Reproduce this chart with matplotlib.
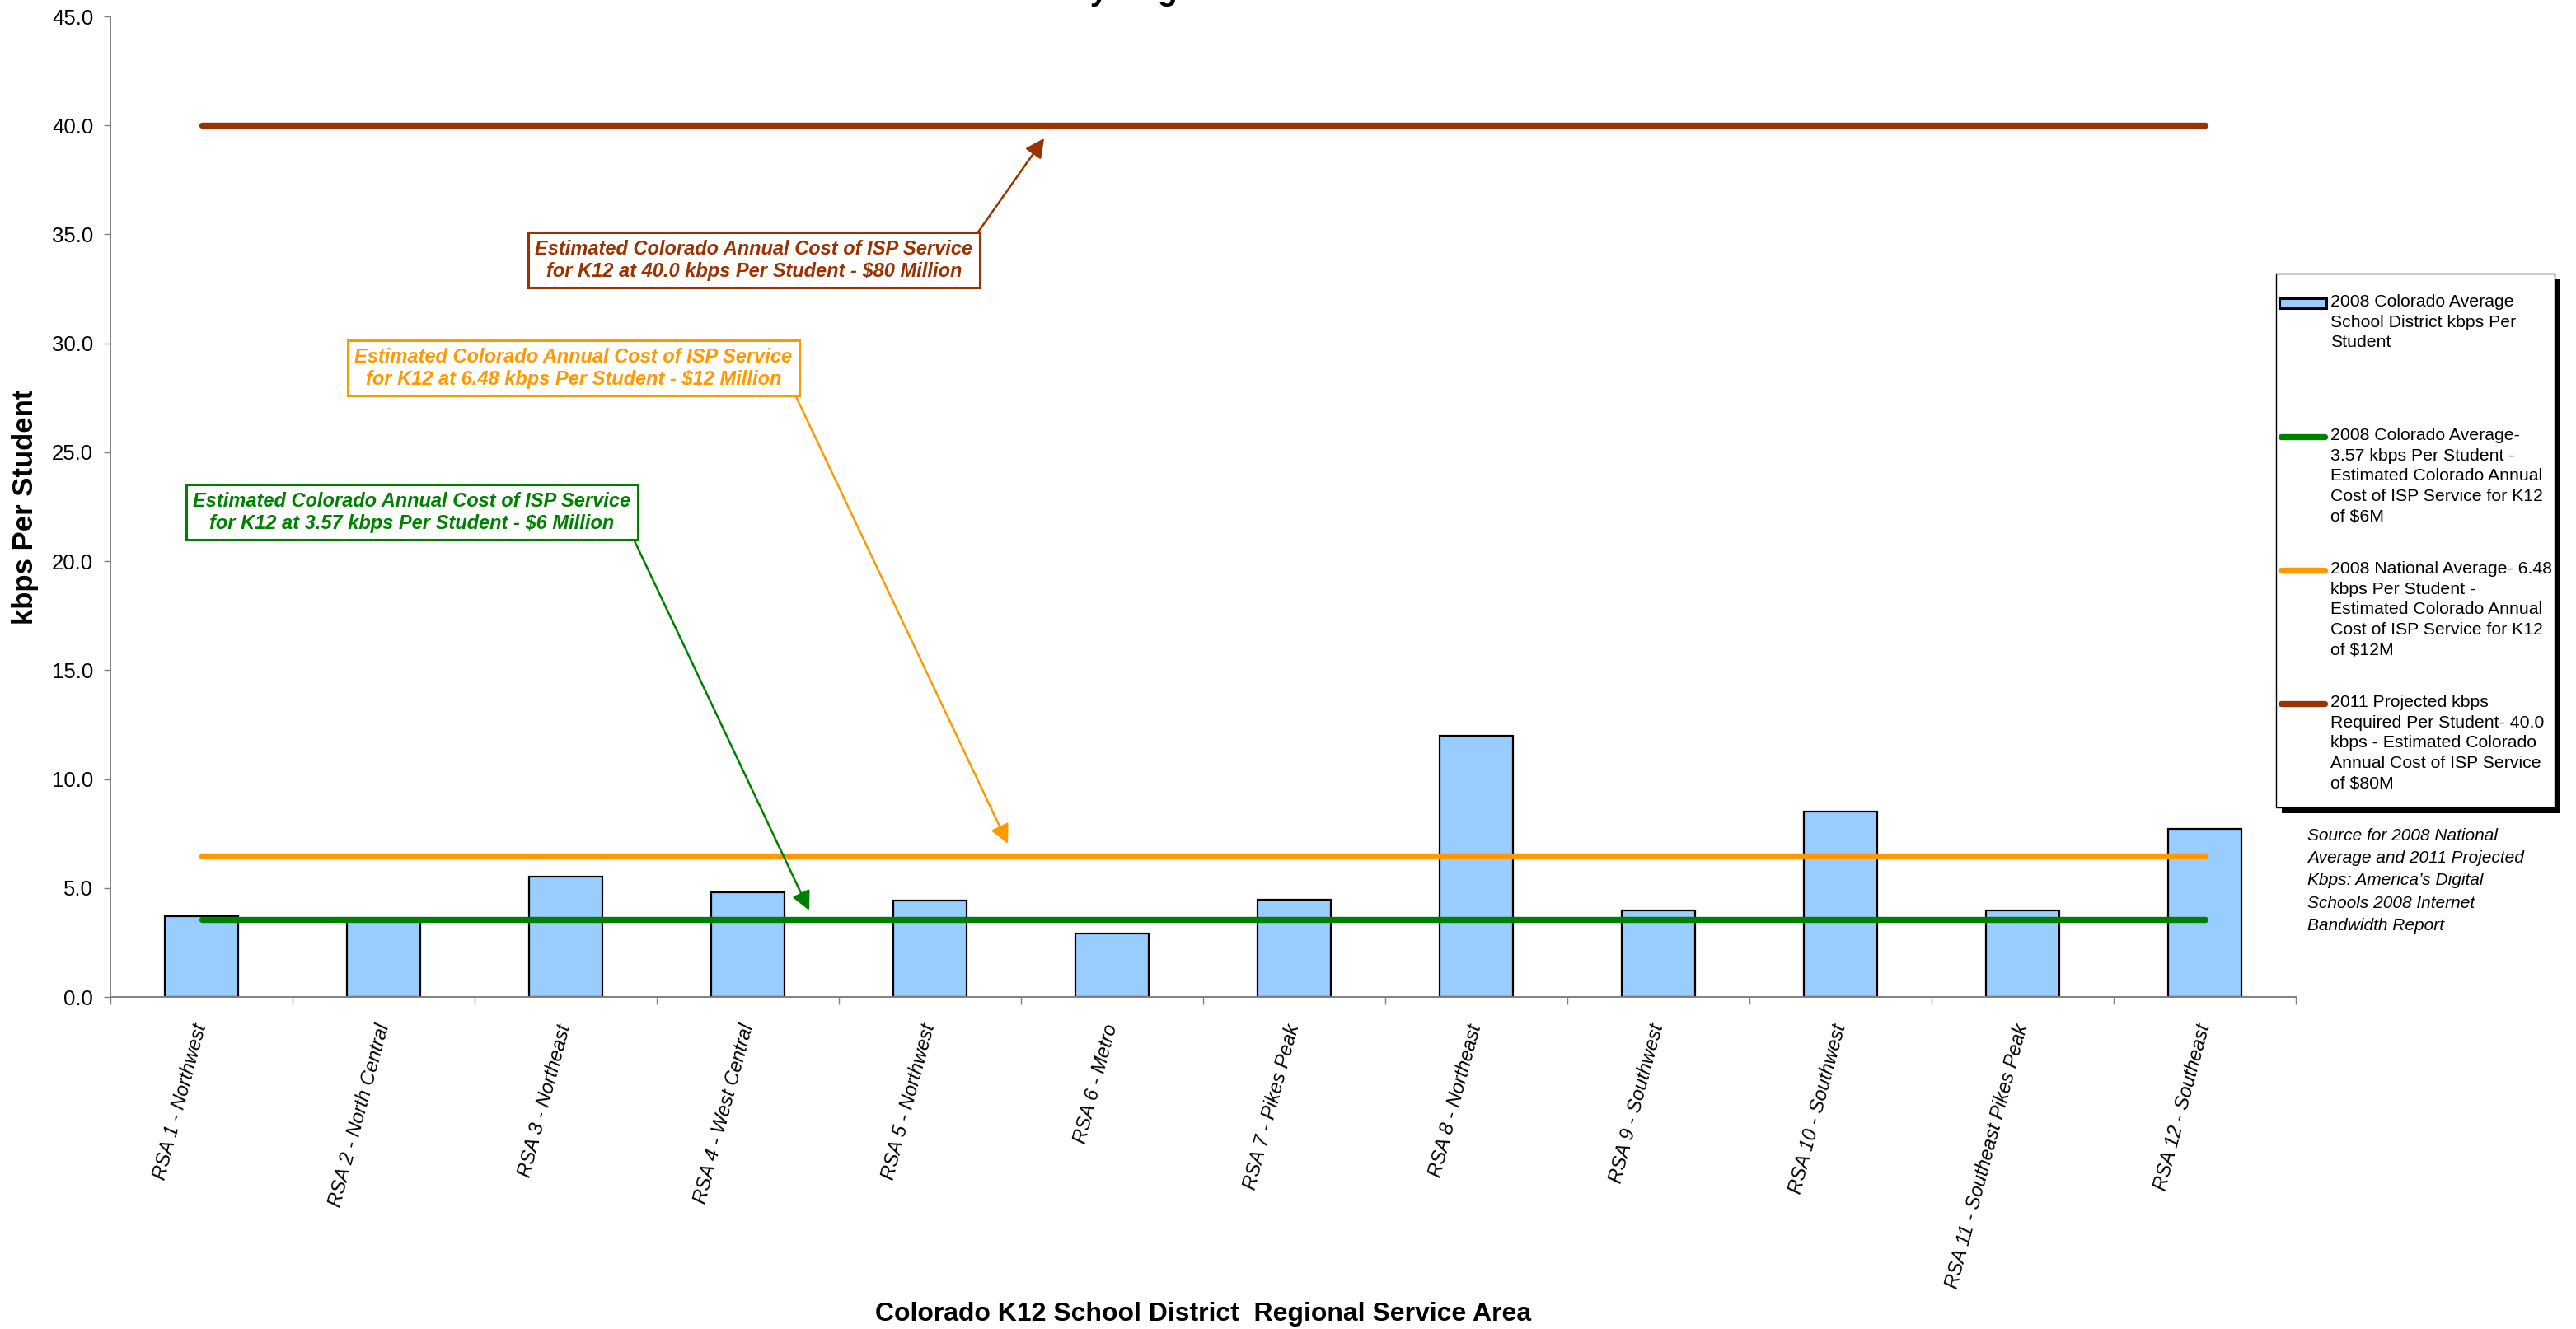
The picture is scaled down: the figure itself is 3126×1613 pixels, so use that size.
import numpy as np
import matplotlib
matplotlib.use('Agg')
import matplotlib.pyplot as plt
from matplotlib.patches import Rectangle

plt.rcParams['font.family'] = ['Liberation Sans', 'DejaVu Sans']

# ── data ────────────────────────────────────────────────────────────────────
REGIONS = ['RSA 1 - Northwest', 'RSA 2 - North Central', 'RSA 3 - Northeast',
           'RSA 4 - West Central', 'RSA 5 - Northwest', 'RSA 6 - Metro',
           'RSA 7 - Pikes Peak', 'RSA 8 - Northeast', 'RSA 9 - Southwest',
           'RSA 10 - Southwest', 'RSA 11 - Southeast Pikes Peak',
           'RSA 12 - Southeast']
KBPS_2008 = [3.69, 3.55, 5.51, 4.79, 4.43, 2.92, 4.45, 12.0, 3.97, 8.51, 3.97, 7.72]
CO_AVG    = [3.57, 3.57, 3.57, 3.57, 3.57, 3.57, 3.57, 3.57, 3.57, 3.57, 3.57, 3.57]
NAT_AVG   = [6.48, 6.48, 6.48, 6.48, 6.48, 6.48, 6.48, 6.48, 6.48, 6.48, 6.48, 6.48]
PROJ_2011 = [40.0, 40.0, 40.0, 40.0, 40.0, 40.0, 40.0, 40.0, 40.0, 40.0, 40.0, 40.0]
YTICKS = [0, 5, 10, 15, 20, 25, 30, 35, 40, 45]

LEG = ['2008 Colorado Average\nSchool District kbps Per\nStudent',
       '2008 Colorado Average-\n3.57 kbps Per Student -\nEstimated Colorado Annual\n'
       'Cost of ISP Service for K12\nof $6M',
       '2008 National Average- 6.48\nkbps Per Student -\nEstimated Colorado Annual\n'
       'Cost of ISP Service for K12\nof $12M',
       '2011 Projected kbps\nRequired Per Student- 40.0\nkbps - Estimated Colorado\n'
       'Annual Cost of ISP Service\nof $80M']
SOURCE = ('Source for 2008 National\nAverage and 2011 Projected\n'
          'Kbps: America\u2019s Digital\nSchools 2008 Internet\nBandwidth Report')

BLUE, GREEN, ORANGE, BROWN = '#99CCFF', '#008000', '#FF9900', '#993300'
GRAY = '#808080'

W, H = 3126, 1613
fig = plt.figure(figsize=(W / 100, H / 100), dpi=100)
ax = fig.add_axes([134 / W, 1 - 1210 / H, 2652 / W, 1190 / H])

x = np.arange(len(REGIONS))
ax.bar(x, KBPS_2008, 0.4, color=BLUE, edgecolor='black', lw=1.6, zorder=2)
for vals, c in [(CO_AVG, GREEN), (NAT_AVG, ORANGE), (PROJ_2011, BROWN)]:
    ax.plot(x, vals, color=c, lw=5.3, solid_capstyle='round', zorder=3)

ax.set_xlim(-0.5, len(REGIONS) - 0.5)
ax.set_ylim(0, 45)
ax.set_yticks(YTICKS)
ax.set_yticklabels([f'{v:.1f}' for v in YTICKS], fontsize=18.5)
ax.set_xticks(np.arange(-0.5, len(REGIONS)), labels=[])
ax.set_xticks(x, minor=True)
ax.set_xticklabels(REGIONS, minor=True, rotation=75, ha='right', va='center',
                   rotation_mode='anchor', fontsize=17, style='italic')
ax.tick_params(axis='x', which='major', length=6.5, width=1, color=GRAY)
ax.tick_params(axis='x', which='minor', length=0, pad=24)
ax.tick_params(axis='y', length=6, width=1, color=GRAY, pad=9)
for s in ['top', 'right']:
    ax.spines[s].set_visible(False)
for s in ['left', 'bottom']:
    ax.spines[s].set_color(GRAY)
    ax.spines[s].set_linewidth(1.4)

ax.set_ylabel('kbps Per Student', fontsize=25, fontweight='bold')
ax.yaxis.set_label_coords(-0.0328, 0.5)
ax.set_xlabel('Colorado K12 School District  Regional Service Area',
              fontsize=23, fontweight='bold')
ax.xaxis.set_label_coords(0.5, -0.311)

# callout boxes
def callout(txt, tip, box, c, rel):
    ax.annotate(txt, xy=tip, xytext=box, textcoords='data', ha='center', va='center',
                color=c, fontsize=17, fontweight='bold', style='italic', linespacing=1.25,
                bbox=dict(boxstyle='square,pad=0.35', fc='white', ec=c, lw=2.2),
                arrowprops=dict(arrowstyle='-|>,head_length=0.7,head_width=0.35',
                                mutation_scale=20, color=c, lw=1.8, relpos=rel,
                                shrinkA=0, shrinkB=0), zorder=4)

callout('Estimated Colorado Annual Cost of ISP Service\n'
        'for K12 at 40.0 kbps Per Student - $80 Million',
        (4.627, 39.41), (3.034, 33.81), BROWN, (1, 1))
callout('Estimated Colorado Annual Cost of ISP Service\n'
        'for K12 at 6.48 kbps Per Student - $12 Million',
        (4.428, 7.03), (2.043, 28.86), ORANGE, (1, 0))
callout('Estimated Colorado Annual Cost of ISP Service\n'
        'for K12 at 3.57 kbps Per Student - $6 Million',
        (3.337, 3.97), (1.156, 22.24), GREEN, (1, 0))

# title, mostly cropped off the top edge as in the source image
fig.text(1532 / W, 1 - 8 / H,
         'Colorado K12 School District kbps Per Student\nby Regional Service Area',
         ha='center', va='bottom', fontsize=28, fontweight='bold', linespacing=1.2)

# legend drawn by hand in pixel coordinates
lg = fig.add_axes([0, 0, 1, 1], zorder=5)
lg.set_xlim(0, W); lg.set_ylim(H, 0); lg.axis('off')
bx, by, bw, bh = 2762, 332, 338, 648
lg.add_patch(Rectangle((bx + 7, by + 7), bw, bh, fc='black', ec='none'))
lg.add_patch(Rectangle((bx, by), bw, bh, fc='white', ec='black', lw=1))
rows = [368, 530, 692, 854]
lg.add_patch(Rectangle((2766, rows[0] - 6), 57, 12, fc=BLUE, ec='black', lw=2.2))
for yy, c in zip(rows[1:], [GREEN, ORANGE, BROWN]):
    lg.plot([2768, 2821], [yy, yy], color=c, lw=5.3, solid_capstyle='round')
for yy, t in zip(rows, LEG):
    lg.text(2828, yy - 11, t, fontsize=15.3, va='top', ha='left', linespacing=1.38)
lg.text(2800, 1016 - 11, SOURCE, fontsize=15, va='top', ha='left',
        style='italic', linespacing=1.55)

fig.savefig('out.png', dpi=100)
